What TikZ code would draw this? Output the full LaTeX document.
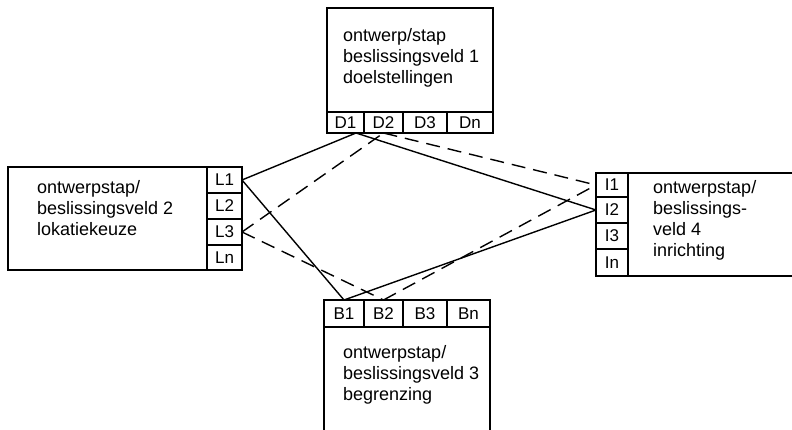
\documentclass[tikz,border=0pt]{standalone}
\usepackage{fontspec}
\setmainfont{Liberation Sans}
\begin{document}
\begin{tikzpicture}[x=1pt,y=-1pt,
 box/.style={draw, line width=1.8pt, inner sep=0pt, outer sep=0pt},
 port/.style={box, font=\fontsize{17}{17}\selectfont},
 txt/.style={anchor=north west, align=left, inner sep=0pt, font=\fontsize{18}{21}\selectfont},
 link/.style={line width=1.4pt},
 dlink/.style={line width=1.4pt, dash pattern=on 14pt off 8pt}]
\useasboundingbox (0,0) rectangle (792,430);
% top box
\node[box, minimum width=166pt, minimum height=125pt] (Dbox) at (410,70.5) {};
\node[txt] (Dtxt) at (343,28) {ontwerp/stap\\beslissingsveld 1\\doelstellingen};
\node[port, minimum width=37pt, minimum height=21pt] (D1) at (345.5,122.5) {D1};
\node[port, minimum width=39pt, minimum height=21pt] (D2) at (383.5,122.5) {D2};
\node[port, minimum width=44pt, minimum height=21pt] (D3) at (425,122.5) {D3};
\node[port, minimum width=46pt, minimum height=21pt] (Dn) at (470,122.5) {Dn};
% left box
\node[box, minimum width=234pt, minimum height=103pt] (Lbox) at (125,218.5) {};
\node[txt] (Ltxt) at (37,180) {ontwerpstap/\\beslissingsveld 2\\lokatiekeuze};
\node[port, minimum width=35pt, minimum height=26pt] (L1) at (224.5,180) {L1};
\node[port, minimum width=35pt, minimum height=26pt] (L2) at (224.5,206) {L2};
\node[port, minimum width=35pt, minimum height=26pt] (L3) at (224.5,232) {L3};
\node[port, minimum width=35pt, minimum height=25pt] (Ln) at (224.5,257.5) {Ln};
% right box (runs off the right edge)
\draw[line width=1.8pt] (800,173) -- (596,173) -- (596,276) -- (800,276);
\node[txt] (Itxt) at (653,180) {ontwerpstap/\\beslissings-\\veld 4\\inrichting};
\node[port, minimum width=32pt, minimum height=24pt] (I1) at (612,185) {I1};
\node[port, minimum width=32pt, minimum height=26pt] (I2) at (612,210) {I2};
\node[port, minimum width=32pt, minimum height=26pt] (I3) at (612,236) {I3};
\node[port, minimum width=32pt, minimum height=27pt] (In) at (612,262.5) {In};
% bottom box (open at the bottom)
\draw[line width=1.8pt] (324,432) -- (324,300) -- (490,300) -- (490,432);
\node[txt] (Btxt) at (343,345) {ontwerpstap/\\beslissingsveld 3\\begrenzing};
\node[port, minimum width=40pt, minimum height=27pt] (B1) at (344,313.5) {B1};
\node[port, minimum width=39pt, minimum height=27pt] (B2) at (383.5,313.5) {B2};
\node[port, minimum width=44pt, minimum height=27pt] (B3) at (425,313.5) {B3};
\node[port, minimum width=43pt, minimum height=27pt] (Bn) at (468.5,313.5) {Bn};
% connectors
\draw[link] (L1.east) -- (D1.-45);
\draw[link] (L1.east) -- (B1.north);
\draw[dlink] (L3.east) -- (D2.south);
\draw[dlink] (L3.east) -- (B2.north);
\draw[link] (D1.-45) -- (I2.west);
\draw[dlink] (D2.south) -- (I1.west);
\draw[link] (B1.north) -- (I2.west);
\draw[dlink] (B2.north) -- (I1.west);
\end{tikzpicture}
\end{document}
